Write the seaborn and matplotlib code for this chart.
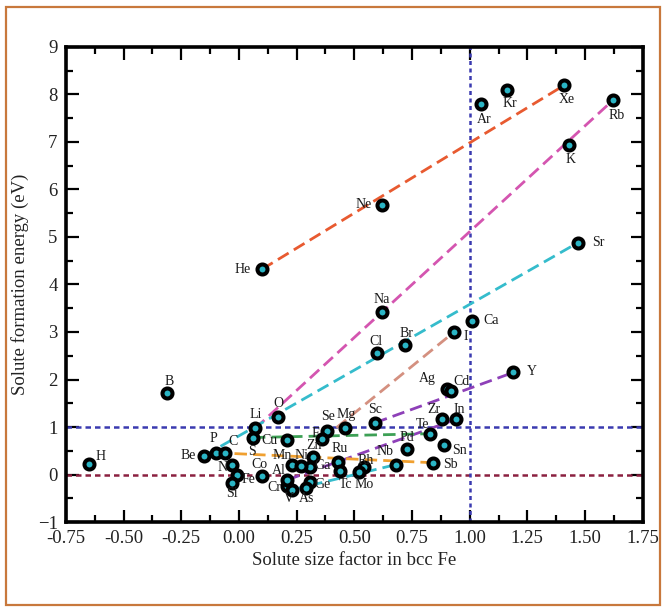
import matplotlib
matplotlib.use("Agg")
import matplotlib.pyplot as plt
import matplotlib.patches as mpatches
from matplotlib.ticker import MultipleLocator, FormatStrFormatter
import numpy as np
import pandas as pd
import seaborn as sns

# Solute elements, their size factor in bcc Fe and formation energy (eV)
elements = ["H", "B", "He", "Ne", "Ar", "Kr", "Xe", "Rb", "K", "Sr",
            "Na", "Cl", "Br", "I", "Ca", "Y", "Ag", "Cd", "Zr", "In",
            "Te", "Pd", "Sn", "Sb", "Nb", "Sc", "Mg", "Se", "F", "Ru",
            "Tc", "Rh", "Mo", "Zn", "Ga", "Ge", "As", "Cr", "V", "Al",
            "Mn", "Ni", "Co", "Cu", "O", "Li", "S", "Be", "P", "C",
            "N", "Fe", "Si"]
size_factor = [-0.65, -0.31, 0.10, 0.62, 1.05, 1.16, 1.41, 1.62, 1.43, 1.47,
               0.62, 0.60, 0.72, 0.93, 1.01, 1.19, 0.90, 0.92, 0.88, 0.94,
               0.83, 0.73, 0.89, 0.84, 0.68, 0.59, 0.46, 0.38, 0.36, 0.43,
               0.44, 0.54, 0.52, 0.32, 0.31, 0.31, 0.29, 0.21, 0.23, 0.21,
               0.23, 0.27, 0.10, 0.21, 0.17, 0.07, 0.06, -0.15, -0.10, -0.06,
               -0.03, -0.01, -0.03]
formation_energy = [0.23, 1.71, 4.32, 5.68, 7.79, 8.08, 8.19, 7.87, 6.93, 4.88,
                    3.41, 2.55, 2.72, 2.99, 3.24, 2.15, 1.80, 1.76, 1.16, 1.16,
                    0.86, 0.53, 0.63, 0.25, 0.21, 1.09, 0.99, 0.91, 0.74, 0.27,
                    0.08, 0.15, 0.06, 0.36, 0.15, -0.15, -0.29, -0.25, -0.32, -0.11,
                    0.21, 0.19, -0.04, 0.72, 1.22, 0.97, 0.78, 0.40, 0.46, 0.46,
                    0.21, 0.00, -0.17]

# Trend lines, each joining two solutes of a family
trend_start = ["He", "Li", "Be", "F", "Sc", "Al", "S", "P", "V"]
trend_end = ["Xe", "Rb", "Sr", "I", "Y", "In", "Te", "Sb", "Nb"]
trend_colors = ["#e85a30", "#d455b0", "#35bccc", "#d49080", "#8e40b8",
                "#8e40b8", "#3da055", "#f0a030", "#35bccc"]

# Reference guides
ref_hlines = [1.0, 0.0]
ref_hcolors = ["#3a3ab0", "#8b2040"]
ref_vlines = [1.0]
ref_vcolors = ["#3a3ab0"]

x_ticks = [-0.75, -0.50, -0.25, 0.00, 0.25, 0.50, 0.75, 1.00, 1.25, 1.50, 1.75]
y_ticks = [-1, 0, 1, 2, 3, 4, 5, 6, 7, 8, 9]

df = pd.DataFrame({"element": elements, "size": size_factor,
                   "energy": formation_energy})
pos = df.set_index("element")

# label placement (pixel offsets from each marker)
label_offsets = {
    "H": (12, 7), "B": (2, 12), "He": (-19, 0), "Ne": (-18, 0),
    "Ar": (3, -15), "Kr": (3, -13), "Xe": (2, -14), "Rb": (4, -15),
    "K": (2, -14), "Sr": (20, 0), "Na": (0, 13), "Cl": (-1, 12),
    "Br": (1, 12), "I": (12, -4), "Ca": (19, 0), "Y": (18, 1),
    "Ag": (-19, 11), "Cd": (10, 9), "Zr": (-8, 10), "In": (3, 10),
    "Te": (-8, 9), "Pd": (0, 12), "Sn": (15, -6), "Sb": (18, -2),
    "Nb": (-11, 13), "Sc": (0, 13), "Mg": (1, 13), "Se": (1, 15),
    "F": (-7, 6), "Ru": (1, 13), "Tc": (5, -14), "Rh": (2, 7),
    "Mo": (5, -13), "Zn": (1, 12), "Ga": (12, 2), "Ge": (12, -3),
    "As": (1, -10), "Cr": (-13, -1), "V": (-3, -9), "Al": (-9, 9),
    "Mn": (-10, 9), "Ni": (0, 10), "Co": (-3, 12), "Cu": (-18, 0),
    "O": (0, 13), "Li": (1, 14), "S": (-1, -14), "Be": (-16, 0),
    "P": (-2, 14), "C": (8, 11), "N": (-9, -3), "Fe": (12, -5),
    "Si": (0, -11),
}

sns.set_theme(style="white")
plt.rcParams["font.family"] = ["Liberation Serif", "DejaVu Serif"]

fig = plt.figure(figsize=(6.66, 6.15), dpi=100)
ax = fig.add_axes([0.099, 0.151, 0.866, 0.773])

for yv, c in zip(ref_hlines, ref_hcolors):
    ax.axhline(yv, color=c, lw=1.8, ls=(0, (2.2, 1.6)), zorder=1)
for xv, c in zip(ref_vlines, ref_vcolors):
    ax.axvline(xv, color=c, lw=1.8, ls=(0, (1.6, 1.4)), zorder=1)

for a, b, c in zip(trend_start, trend_end, trend_colors):
    seg = pd.DataFrame({"size": [pos.loc[a, "size"], pos.loc[b, "size"]],
                        "energy": [pos.loc[a, "energy"], pos.loc[b, "energy"]]})
    sns.lineplot(data=seg, x="size", y="energy", ax=ax, color=c, lw=2.0,
                 sort=False, estimator=None, linestyle=(0, (4.5, 2.2)),
                 zorder=2)

sns.scatterplot(data=df, x="size", y="energy", ax=ax, s=52,
                color="#2ab5c5", edgecolor="black", linewidth=2.9, zorder=3)

for el, xv, yv in zip(elements, size_factor, formation_energy):
    dx, dy = label_offsets.get(el, (8, 8))
    ax.annotate(el, (xv, yv), xytext=(dx, dy), textcoords="offset pixels",
                ha="center", va="center", fontsize=10, color="#1a1a1a",
                zorder=4)

ax.set_xlim(-0.75, 1.75)
ax.set_ylim(-1, 9)
ax.set_xticks(x_ticks)
ax.set_yticks(y_ticks)
ax.xaxis.set_major_formatter(FormatStrFormatter("%.2f"))
ax.xaxis.set_minor_locator(MultipleLocator(0.125))
ax.yaxis.set_minor_locator(MultipleLocator(0.5))
ax.tick_params(which="both", direction="in", top=True, right=True,
               bottom=True, left=True, color="black", width=1.6)
ax.tick_params(which="major", length=9, labelsize=13.5, pad=6,
               labelcolor="#222222")
ax.tick_params(which="minor", length=5)
for sp in ax.spines.values():
    sp.set_linewidth(2.6)
    sp.set_color("black")

ax.set_xlabel("Solute size factor in bcc Fe", fontsize=13.5, labelpad=3,
              color="#222222")
ax.set_ylabel("Solute formation energy (eV)", fontsize=13.5, labelpad=6,
              color="#222222")

# page frame
fig.patches.append(mpatches.Rectangle((0.009, 0.016), 0.982, 0.972,
                                      transform=fig.transFigure, fill=False,
                                      edgecolor="#c8783c", lw=1.6))

fig.savefig("out.png", dpi=100)
